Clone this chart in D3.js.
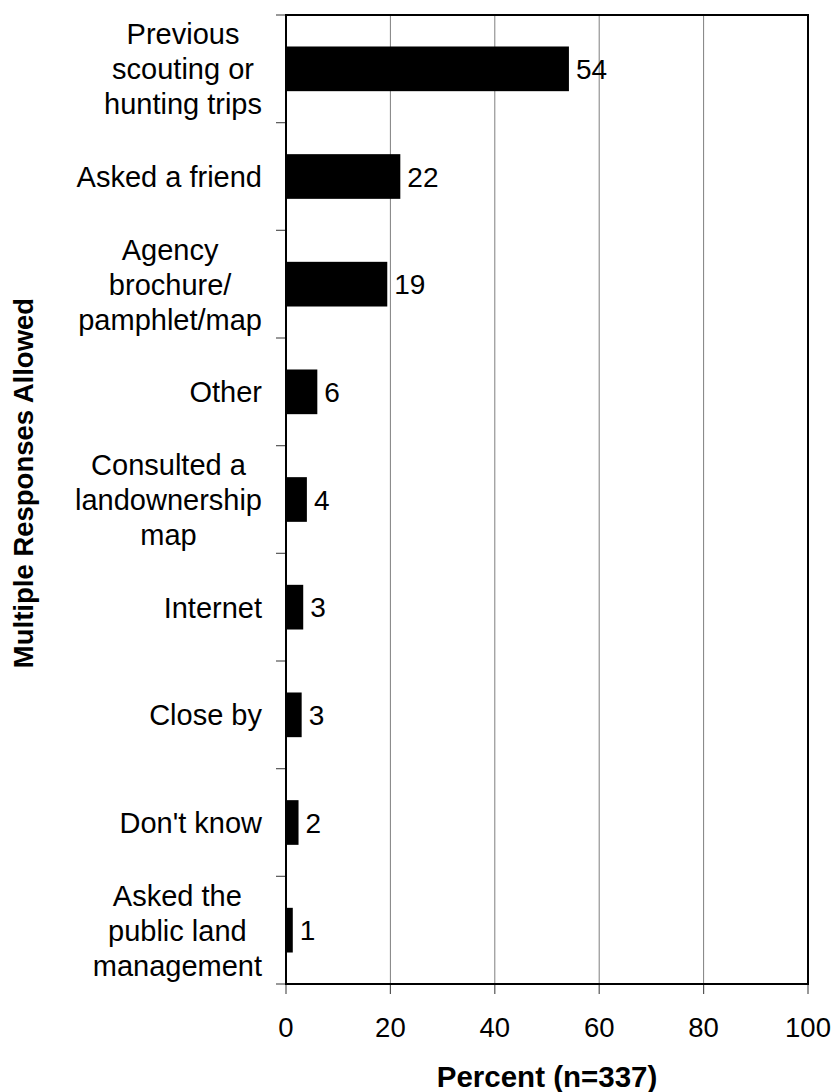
<!DOCTYPE html>
<html>
<head>
<meta charset="utf-8">
<script src="https://cdn.jsdelivr.net/npm/d3@7"></script>
<style>
  html, body { margin: 0; padding: 0; background: #fff; }
  svg { display: block; font-family: "Liberation Sans", Arial, sans-serif; }
</style>
</head>
<body>
<svg id="chart" width="836" height="1092"></svg>
<script>
// ---- data ----
const categories = [
  "Previous scouting or hunting trips",
  "Asked a friend",
  "Agency brochure/ pamphlet/map",
  "Other",
  "Consulted a landownership map",
  "Internet",
  "Close by",
  "Don't know",
  "Asked the public land management"
];
const categoryLines = [
  ["Previous", "scouting or", "hunting trips"],
  ["Asked a friend"],
  ["Agency", "brochure/", "pamphlet/map"],
  ["Other"],
  ["Consulted a", "landownership", "map"],
  ["Internet"],
  ["Close by"],
  ["Don't know"],
  ["Asked the", "public land", "management"]
];
const percentValues = [54.2, 21.9, 19.4, 6.0, 4.0, 3.3, 3.0, 2.4, 1.3];
const xTickValues = [0, 20, 40, 60, 80, 100];
const xTitle = "Percent (n=337)";
const yTitle = "Multiple Responses Allowed";

// ---- layout ----
const svg = d3.select("#chart");
const plotL = 286, plotR = 808, plotT = 15, plotB = 984;

const x = d3.scaleLinear().domain([0, 100]).range([plotL, plotR]);
const y = d3.scaleBand().domain(categories).range([plotT, plotB])
  .paddingInner(0.585).paddingOuter(0.2925);
const step = y.step();
const gap = step - y.bandwidth();

// gridlines
svg.append("g").selectAll("line")
  .data(xTickValues.filter(d => d > 0 && d < 100))
  .join("line")
  .attr("x1", d => x(d)).attr("x2", d => x(d))
  .attr("y1", plotT).attr("y2", plotB)
  .attr("stroke", "#7f7f7f").attr("stroke-width", 1);

// x ticks
svg.append("g").selectAll("line")
  .data(xTickValues).join("line")
  .attr("x1", d => x(d)).attr("x2", d => x(d))
  .attr("y1", plotB).attr("y2", plotB + 10)
  .attr("stroke", "#555").attr("stroke-width", 1.2);

// x tick labels
svg.append("g").selectAll("text")
  .data(xTickValues).join("text")
  .attr("x", d => x(d)).attr("y", 1037)
  .attr("text-anchor", "middle")
  .attr("font-size", 27.5).attr("fill", "#000")
  .text(d => d);

// y ticks at band boundaries
const yTickPos = categories.map(c => y(c) - gap / 2).concat([plotB]);
svg.append("g").selectAll("line")
  .data(yTickPos).join("line")
  .attr("x1", plotL - 10).attr("x2", plotL)
  .attr("y1", d => d).attr("y2", d => d)
  .attr("stroke", "#555").attr("stroke-width", 1.2);

// bars
svg.append("g").selectAll("rect")
  .data(categories).join("rect")
  .attr("x", x(0))
  .attr("y", d => y(d))
  .attr("width", (d, i) => x(percentValues[i]) - x(0))
  .attr("height", y.bandwidth())
  .attr("fill", "#000");

// value labels
svg.append("g").selectAll("text")
  .data(categories).join("text")
  .attr("x", (d, i) => x(percentValues[i]) + 7)
  .attr("y", d => y(d) + y.bandwidth() / 2)
  .attr("dy", "0.36em")
  .attr("font-size", 28).attr("fill", "#000")
  .text((d, i) => Math.round(percentValues[i]));

// frame
svg.append("rect")
  .attr("x", plotL).attr("y", plotT)
  .attr("width", plotR - plotL).attr("height", plotB - plotT)
  .attr("fill", "none").attr("stroke", "#000").attr("stroke-width", 2);

// category labels (centered block, right-aligned)
const labelRight = 262;
const lineH = 35;
const catG = svg.append("g");
categories.forEach((c, i) => {
  const lines = categoryLines[i];
  const g = catG.append("g");
  const texts = lines.map((ln, j) => g.append("text")
    .attr("font-size", 29).attr("fill", "#000")
    .attr("text-anchor", "middle")
    .attr("y", y(c) + y.bandwidth() / 2 + (j - (lines.length - 1) / 2) * lineH)
    .attr("dy", "0.36em")
    .text(ln));
  const maxW = d3.max(texts, t => t.node().getComputedTextLength());
  texts.forEach(t => t.attr("x", labelRight - maxW / 2));
});

// axis titles
svg.append("text")
  .attr("x", (plotL + plotR) / 2).attr("y", 1087)
  .attr("text-anchor", "middle")
  .attr("font-size", 29.5).attr("font-weight", "bold")
  .text(xTitle);

svg.append("text")
  .attr("transform", "translate(33,483) rotate(-90)")
  .attr("text-anchor", "middle")
  .attr("font-size", 27.5).attr("font-weight", "bold")
  .text(yTitle);
</script>
</body>
</html>
